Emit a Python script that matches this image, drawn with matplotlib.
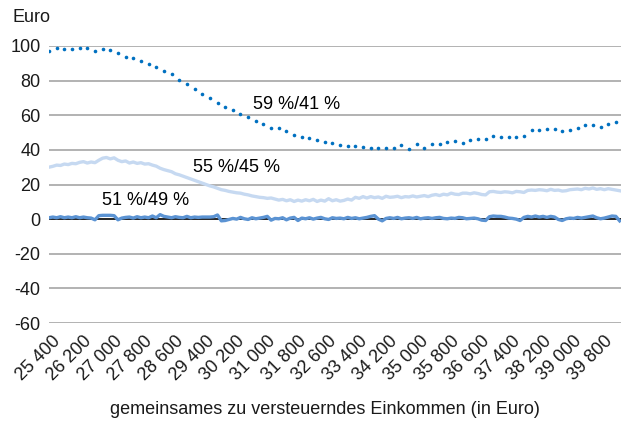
import matplotlib

matplotlib.use("Agg")
import matplotlib.pyplot as plt


OUTPUT_FILE = "out.png"

# income categories (Euro), one value every 100 Euro
INCOME_START = 25000
INCOME_STEP = 100

TICK_LABELS = [
    "25 400", "26 200", "27 000", "27 800", "28 600", "29 400", "30 200",
    "31 000", "31 800", "32 600", "33 400", "34 200", "35 000", "35 800",
    "36 600", "37 400", "38 200", "39 000", "39 800",
]
TICK_VALUES = [25400 + 800 * i for i in range(len(TICK_LABELS))]

# 59 %/41 % split, sampled every 200 Euro
split_59 = [
    97.1, 99.0, 98.1, 98.3, 99.0, 98.7, 97.1, 98.1, 97.5, 95.8,
    93.8, 92.9, 91.5, 89.5, 87.6, 85.5, 83.8, 80.2, 77.8, 75.0,
    72.0, 70.0, 67.2, 64.6, 63.0, 61.0, 59.2, 56.4, 55.0, 52.8,
    52.4, 50.7, 48.8, 47.6, 46.6, 45.5, 44.8, 44.2, 42.8, 42.2,
    42.2, 41.9, 41.2, 41.0, 41.2, 40.9, 42.6, 40.6, 43.2, 40.9,
    43.2, 43.5, 44.3, 45.0, 43.9, 45.6, 46.1, 46.1, 48.0, 47.4,
    47.2, 47.4, 48.2, 51.3, 51.3, 52.0, 52.2, 51.0, 51.3, 52.4,
    54.2, 54.2, 53.2, 55.1, 56.1,
]

# 55 %/45 % split, every 100 Euro
split_55 = [
    30.0, 30.5, 31.2, 31.0, 31.8, 31.5, 32.2, 32.0, 32.8, 33.2,
    32.4, 33.0, 32.6, 34.0, 35.2, 35.6, 34.8, 35.4, 34.0, 33.2,
    33.6, 32.4, 33.0, 32.2, 32.6, 31.8, 32.0, 31.2, 30.6, 29.4,
    28.6, 28.0, 27.4, 26.2, 25.6, 24.8, 24.0, 23.2, 22.4, 21.6,
    20.8, 20.0, 19.2, 18.6, 17.8, 17.0, 16.6, 16.0, 15.6, 15.2,
    15.0, 14.4, 14.0, 13.4, 13.0, 12.6, 12.4, 12.0, 12.2, 11.6,
    11.0, 11.4, 10.6, 11.2, 10.2, 11.0, 10.4, 11.2, 10.6, 11.4,
    10.2, 11.0, 10.4, 11.8, 10.6, 11.2, 10.4, 10.8, 11.6, 11.0,
    12.6, 12.0, 13.0, 12.2, 13.0, 12.4, 12.8, 12.0, 13.2, 12.6,
    12.8, 13.2, 12.4, 13.0, 12.8, 13.4, 12.8, 13.2, 13.6, 13.0,
    13.8, 14.2, 13.6, 14.4, 14.0, 15.0, 14.4, 14.2, 15.0, 15.0,
    14.6, 15.2, 14.8, 14.2, 14.0, 15.8, 16.0, 15.6, 15.4, 15.8,
    15.6, 15.2, 16.0, 15.8, 15.4, 16.6, 16.8, 16.6, 17.0, 16.8,
    16.4, 17.2, 16.6, 16.8, 16.2, 16.4, 17.0, 17.2, 17.4, 17.0,
    17.8, 17.4, 18.0, 17.2, 17.6, 17.0, 17.6, 17.2, 16.8, 16.4,
]

# 51 %/49 % split, every 100 Euro
split_51 = [
    0.8, 1.2, 0.8, 1.4, 0.8, 1.2, 0.8, 1.4, 0.8, 1.2,
    0.8, 0.6, -0.4, 2.0, 2.2, 2.2, 2.2, 2.0, -0.4, 0.6,
    1.0, 1.2, 0.6, 1.4, 0.8, 1.2, 0.8, 1.8, 0.8, 2.6,
    1.6, 1.2, 0.8, 1.4, 1.0, 0.8, 1.6, 0.8, 1.2, 1.0,
    1.2, 1.2, 1.2, 1.4, 2.4, -1.0, -0.8, -0.2, 0.4, 0.0,
    1.0, 0.2, -0.2, 0.8, 0.2, 0.6, 1.0, 1.6, -0.6, 0.4,
    0.2, 0.8, -0.4, 0.6, 1.0, -0.8, 0.6, 0.2, 0.8, 0.0,
    0.6, 1.0, 0.2, -0.2, 0.8, 0.4, 0.6, 0.2, 1.0, 0.4,
    0.8, 0.2, 0.6, 1.0, 1.6, 2.0, 0.0, -1.0, 0.4, 0.8,
    0.4, 1.0, 0.2, 0.6, 0.8, 0.4, 1.0, 0.2, 0.6, 0.8,
    0.4, 0.8, 1.0, 0.4, 0.2, 0.6, 0.4, 1.0, 0.8, 0.2,
    0.4, 0.6, 0.2, -0.6, -0.8, 1.4, 1.8, 1.6, 1.6, 1.2,
    0.6, 0.4, 0.0, -0.8, 1.0, 1.6, 1.2, 1.8, 1.2, 1.6,
    1.0, 1.6, 1.2, -0.2, -0.8, 0.2, 0.6, 0.4, 1.0, 0.6,
    1.0, 1.4, 1.8, 0.8, 0.2, 0.6, 1.2, 1.8, 1.6, -1.0,
]

income_100 = [INCOME_START + INCOME_STEP * i for i in range(len(split_55))]
income_200 = [INCOME_START + 2 * INCOME_STEP * i for i in range(len(split_59))]


def create_chart() -> None:
    """Draw the three split curves and save the chart."""

    plt.rcParams["font.family"] = ["Liberation Sans", "DejaVu Sans"]
    plt.rcParams["axes.unicode_minus"] = False

    fig = plt.figure(figsize=(6.21, 4.21), dpi=100)
    ax = fig.add_axes([49 / 621, 98 / 421, 572 / 621, 277 / 421])

    for y in range(-60, 101, 20):
        ax.axhline(y, color="#a6a6a6", linewidth=1.2, zorder=1)
    ax.axhline(0, color="black", linewidth=1.1, zorder=2)

    ax.plot(income_100, split_55, color="#c6d9f1", linewidth=2.4,
            solid_joinstyle="round", zorder=3)
    ax.plot(income_100, split_51, color="#5b93d3", linewidth=2.4,
            solid_joinstyle="round", zorder=4)
    ax.plot(income_200, split_59, linestyle="none", marker="o",
            markersize=2.6, color="#0070c0", markeredgewidth=0, zorder=5)

    ax.text(30330, 66, "59 %/41 %", fontsize=13, va="center", ha="left")
    ax.text(28760, 30, "55 %/45 %", fontsize=13, va="center", ha="left")
    ax.text(26380, 11, "51 %/49 %", fontsize=13, va="center", ha="left")

    ax.set_xlim(25000, 39935)
    ax.set_ylim(-60, 100)
    ax.set_yticks(range(-60, 101, 20))
    ax.set_xticks(TICK_VALUES)
    ax.set_xticklabels(TICK_LABELS, rotation=45, ha="right", va="top")

    ax.tick_params(axis="both", length=0, labelsize=13, colors="#1a1a1a")
    ax.tick_params(axis="y", pad=6)
    ax.tick_params(axis="x", pad=7)

    for spine in ax.spines.values():
        spine.set_visible(False)

    fig.text(12 / 621, 1 - 18 / 421, "Euro", fontsize=13, va="center",
             ha="left", color="#1a1a1a")
    fig.text(325 / 621, 1 - 410 / 421,
             "gemeinsames zu versteuerndes Einkommen (in Euro)",
             fontsize=13, va="center", ha="center", color="#1a1a1a")

    fig.savefig(OUTPUT_FILE, dpi=100)
    plt.close(fig)


def main() -> None:
    create_chart()


if __name__ == "__main__":
    main()
